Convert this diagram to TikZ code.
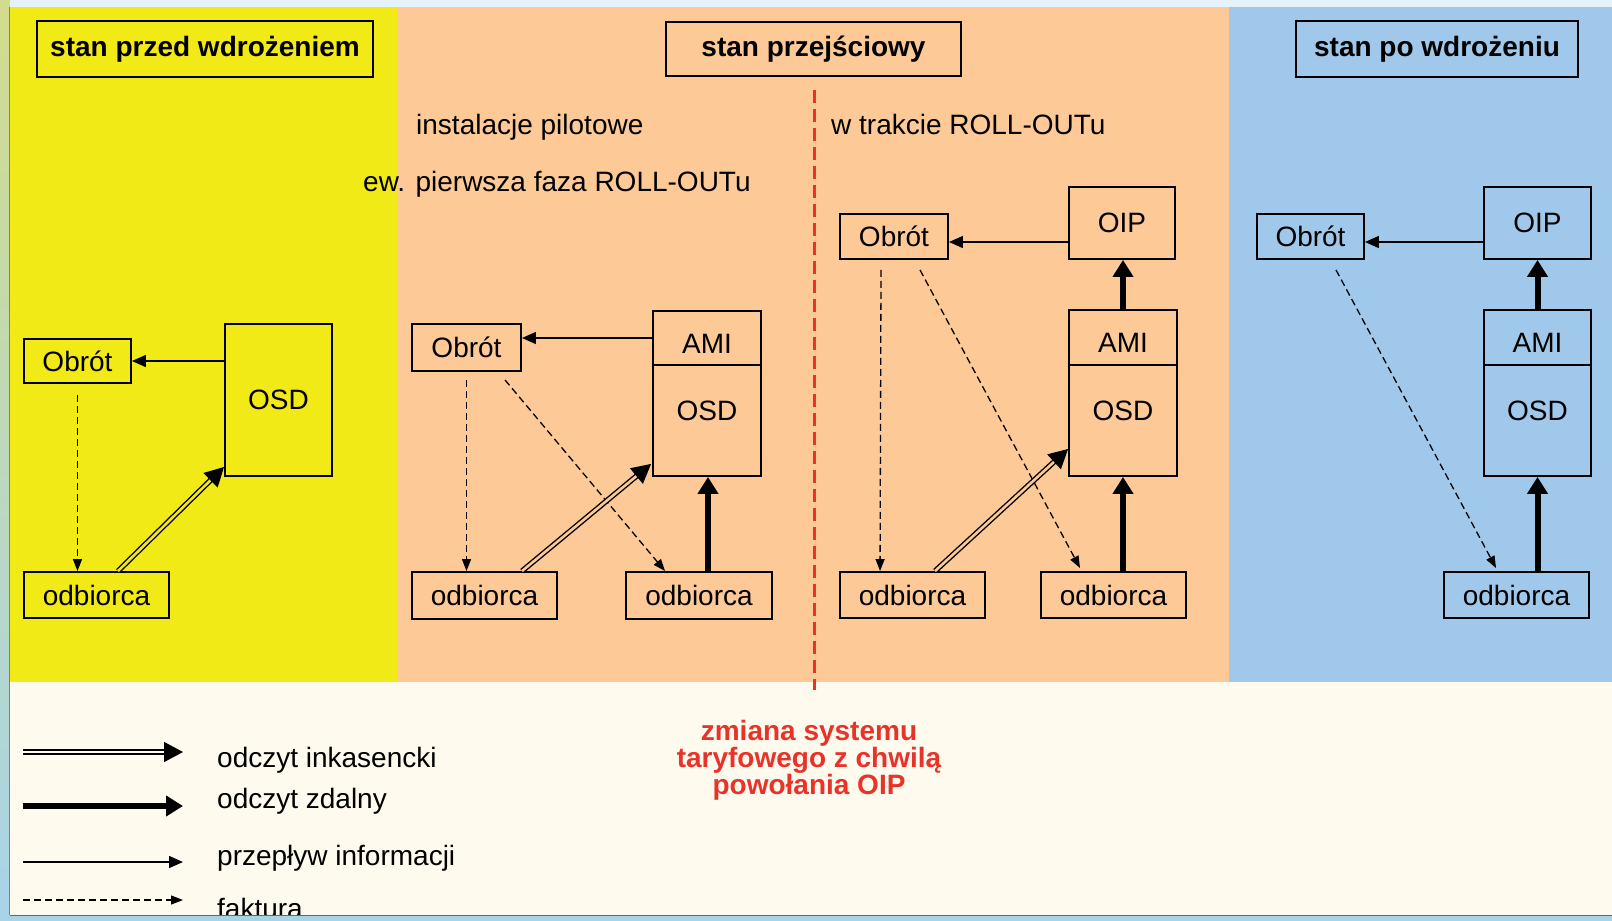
\documentclass[tikz,border=0pt]{standalone}
\usepackage{fontspec}
\setmainfont{Liberation Sans}
\usetikzlibrary{arrows.meta,calc}
\definecolor{cyel}{HTML}{F2EA17}
\definecolor{cora}{HTML}{FDC996}
\definecolor{cblu}{HTML}{A0C8EA}
\definecolor{ccre}{HTML}{FEFBEE}
\definecolor{cred}{HTML}{E8332A}
\definecolor{frtop}{HTML}{D2DC8C}
\definecolor{frbot}{HTML}{A8D4EA}
\newcommand\fsn{\fontsize{28}{30}\selectfont}
\begin{document}
\begin{tikzpicture}[x=1pt,y=-1pt,
  box/.style={draw=black, line width=1.9pt, inner sep=0pt, font=\fsn},
  titlebox/.style={draw=black, line width=1.9pt, inner sep=0pt, font=\fsn\bfseries},
  lbl/.style={inner sep=0pt, font=\fsn},
  info/.style={line width=1.5pt, -{Triangle[length=14pt,width=12pt]}},
  fakt/.style={line width=1.3pt, dash pattern=on 7pt off 4pt, -{Triangle[length=12pt,width=9pt]}},
  zdal/.style={line width=6pt, -{Triangle[length=17pt,width=20pt]}},
  inkas/.style={line width=1.4pt, double distance=2.6pt, -{Triangle[length=19pt,width=20pt,fill=black]}},
]
\useasboundingbox (0,0) rectangle (1612,921);
% frame
\fill[frbot] (0,0) rectangle (1612,921);
\fill[top color=frtop, bottom color=frbot] (0,0) rectangle (10,921);
\fill[white!70!frbot] (10,0) rectangle (1612,7);
% panels
\fill[cyel] (10,7) rectangle (398,682);
\fill[cora] (398,7) rectangle (1229,682);
\fill[cblu] (1229,7) rectangle (1612,682);
\fill[ccre] (10,682) rectangle (1612,915);
\draw[gray, line width=1pt] (9.5,7) -- (9.5,915);

% titles
\node[titlebox, minimum width=336pt, minimum height=56pt] (t1) at (205,49) {stan przed wdrożeniem};
\node[titlebox, minimum width=295pt, minimum height=54pt] (t2) at (813.5,49) {stan przejściowy};
\node[titlebox, minimum width=282pt, minimum height=56pt] (t3) at (1437,49) {stan po wdrożeniu};

% labels
\node[lbl, anchor=base west] (l1) at (416,134) {instalacje pilotowe};
\node[lbl, anchor=base west] (l2) at (363,191) {ew. pierwsza faza ROLL-OUTu};
\node[lbl, anchor=base west] (l3) at (831,134) {w trakcie ROLL-OUTu};

% red divider
\coordinate (rtop) at (814,90);
\coordinate (rbot) at (814,690);
\draw[cred, line width=3pt, dash pattern=on 13pt off 6pt] (rtop) -- (rbot);
\node[font=\fontsize{28}{25}\selectfont\bfseries, text=cred, align=center, inner sep=0pt] (zm) at (809,760) {zmiana systemu\\taryfowego z chwilą\\powołania OIP};

% panel 1
\node[box, minimum width=107pt, minimum height=44pt] (ob1) at (77.5,361) {Obrót};
\node[box, minimum width=107pt, minimum height=152pt] (osd1) at (278.5,400) {OSD};
\node[box, minimum width=145pt, minimum height=46pt] (od1) at (96.5,595) {odbiorca};
\draw[info] (osd1.west |- ob1.east) -- (ob1.east);
\draw[fakt] ($(ob1.south)+(0,11)$) -- (ob1.south |- od1.north);
\draw[inkas, double=cyel] ($(od1.north)+(21.5,0)$) -- ($(osd1.south west)+(0,-10)$);

% panel 2
\node[box, minimum width=109pt, minimum height=47pt] (ob2) at (466.5,347.5) {Obrót};
\node[box, minimum width=108pt, minimum height=54pt, text height=30pt] (ami2) at (707,338) {AMI};
\node[box, minimum width=108pt, minimum height=111pt, text depth=19pt] (osd2) at (707,420.5) {OSD};
\node[box, minimum width=145pt, minimum height=47pt] (od2a) at (484.5,595.5) {odbiorca};
\node[box, minimum width=146pt, minimum height=47pt] (od2b) at (699,595.5) {odbiorca};
\draw[info] (ami2.west) -- (ami2.west -| ob2.east);
\draw[fakt] ($(ob2.south)+(0,8)$) -- (ob2.south |- od2a.north);
\draw[fakt] ($(ob2.south)+(38.5,8)$) -- ($(od2b.north west)+(40,0)$);
\draw[inkas, double=cora] ($(od2a.north)+(37.5,0)$) -- ($(osd2.south west)+(-1,-13)$);
\draw[zdal] ($(od2b.north)+(9,0)$) -- ($(osd2.south)+(1,0)$);

% panel 3
\node[box, minimum width=108pt, minimum height=45pt] (ob3) at (894,236.5) {Obrót};
\node[box, minimum width=106pt, minimum height=72pt] (oip3) at (1122,223) {OIP};
\node[box, minimum width=108pt, minimum height=55pt, text height=30pt] (ami3) at (1123,337.5) {AMI};
\node[box, minimum width=108pt, minimum height=111pt, text depth=19pt] (osd3) at (1123,420.5) {OSD};
\node[box, minimum width=145pt, minimum height=46pt] (od3a) at (912.5,595) {odbiorca};
\node[box, minimum width=145pt, minimum height=46pt] (od3b) at (1113.5,595) {odbiorca};
\draw[info] ($(oip3.west)+(0,19)$) -- ($(ob3.east)+(0,5.5)$);
\draw[zdal] (ami3.north) -- (ami3.north |- oip3.south);
\draw[zdal] (osd3.south |- od3b.north) -- (osd3.south);
\draw[fakt] ($(ob3.south)+(-13,10)$) -- ($(od3a.north west)+(41,0)$);
\draw[fakt] ($(ob3.south)+(26,10)$) -- ($(od3b.north west)+(40,-3)$);
\draw[inkas, double=cora] ($(od3a.north)+(22.5,0)$) -- ($(osd3.west)+(0,28.5)$);

% panel 4
\node[box, minimum width=107pt, minimum height=45pt] (ob4) at (1310.5,236.5) {Obrót};
\node[box, minimum width=107pt, minimum height=72pt] (oip4) at (1537.5,223) {OIP};
\node[box, minimum width=107pt, minimum height=55pt, text height=30pt] (ami4) at (1537.5,337.5) {AMI};
\node[box, minimum width=107pt, minimum height=111pt, text depth=19pt] (osd4) at (1537.5,420.5) {OSD};
\node[box, minimum width=145pt, minimum height=46pt] (od4) at (1516.5,595) {odbiorca};
\draw[info] ($(oip4.west)+(0,19)$) -- ($(ob4.east)+(0,5.5)$);
\draw[zdal] (ami4.north) -- (ami4.north |- oip4.south);
\draw[zdal] (osd4.south |- od4.north) -- (osd4.south);
\draw[fakt] ($(ob4.south)+(25.5,10)$) -- ($(od4.north west)+(53,-3)$);

% legend
\coordinate (g1a) at (23,752); \coordinate (g1b) at (183,752);
\coordinate (g2a) at (23,806); \coordinate (g2b) at (183,806);
\coordinate (g3a) at (23,862); \coordinate (g3b) at (183,862);
\coordinate (g4a) at (23,900); \coordinate (g4b) at (183,900);
\draw[inkas, double=ccre] (g1a) -- (g1b);
\draw[zdal] (g2a) -- (g2b);
\draw[info] (g3a) -- (g3b);
\draw[fakt] (g4a) -- (g4b);
\node[lbl, anchor=base west] (k1) at (217,767) {odczyt inkasencki};
\node[lbl, anchor=base west] (k2) at (217,808) {odczyt zdalny};
\node[lbl, anchor=base west] (k3) at (217,865) {przepływ informacji};
\node[lbl, anchor=base west] (k4) at (217,918) {faktura};
% bottom frame strip over clipped legend text
\fill[frbot] (0,916.2) rectangle (1612,921);
\draw[gray!80!black, line width=1.5pt] (10,915.5) -- (1612,915.5);
\end{tikzpicture}
\end{document}
